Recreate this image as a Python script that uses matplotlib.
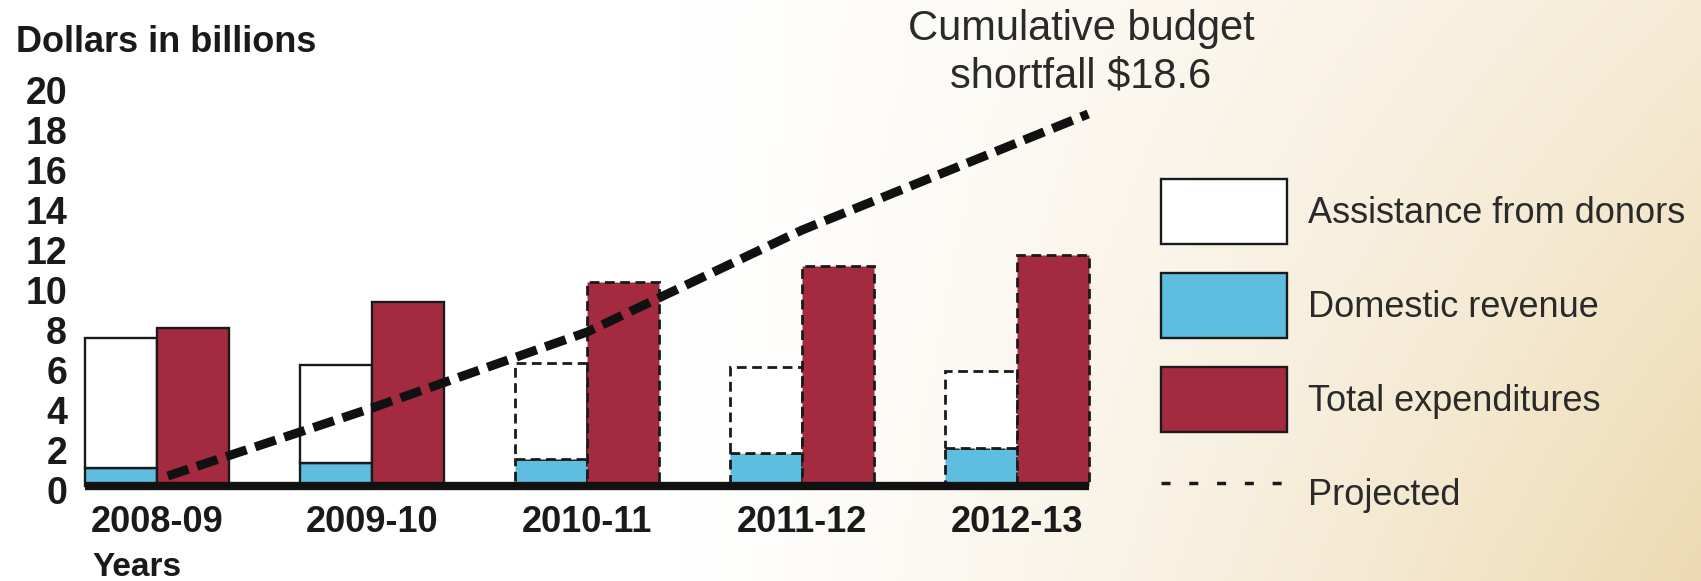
import numpy as np
import matplotlib
matplotlib.use("Agg")
import matplotlib.pyplot as plt
import matplotlib.transforms as mtransforms
from matplotlib.patches import Patch
from matplotlib.lines import Line2D

plt.rcParams['font.family'] = ['Liberation Sans', 'DejaVu Sans']

# data (billions of dollars)
years = ['2008-09', '2009-10', '2010-11', '2011-12', '2012-13']
domestic = [0.9, 1.15, 1.35, 1.65, 1.9]
donors = [6.5, 4.9, 4.8, 4.3, 3.85]
expenditures = [7.9, 9.2, 10.2, 11.0, 11.55]
projected = [False, False, True, True, True]
shortfall_pos = [0.05, 1, 2, 3, 4.33]
shortfall = [0.5, 3.9, 7.7, 12.8, 18.6]
yticks = list(range(0, 21, 2))

RED = '#a32a3f'
BLUE = '#5fbde0'
EDGE = '#1a1a1a'
TXT = '#2a2a2a'

fig = plt.figure(figsize=(17.01, 5.81), dpi=100)

# background: white fading to pale tan at the right
bg = fig.add_axes([0, 0, 1, 1], zorder=0)
nx, ny = 400, 140
u = np.linspace(0, 1, nx)[None, :]
v = np.linspace(0, 1, ny)[:, None]
t = np.clip((u - 0.40) / 0.60, 0, 1) ** 1.3 * (0.55 + 0.45 * v)
tan = np.array([0.93, 0.855, 0.70])
img = 1 - t[..., None] * (1 - tan)
bg.imshow(img, aspect='auto', extent=[0, 1, 0, 1], origin='upper')
bg.axis('off')

ax = fig.add_axes([74 / 1701, 1 - 498 / 581, 1040 / 1701, 432 / 581], zorder=1)
ax.patch.set_alpha(0)

x = np.arange(len(years))
w = 0.335
for i in range(len(years)):
    ls = (0, (3.5, 2)) if projected[i] else '-'
    lw = 2.0 if projected[i] else 1.7
    ax.bar(x[i] - w / 2, domestic[i], w, color=BLUE, edgecolor=EDGE, linewidth=lw, linestyle=ls, zorder=2)
    ax.bar(x[i] - w / 2, donors[i], w, bottom=domestic[i], color='white', edgecolor=EDGE,
           linewidth=lw, linestyle=ls, zorder=2)
    ax.bar(x[i] + w / 2, expenditures[i], w, color=RED, edgecolor=EDGE, linewidth=lw, linestyle=ls, zorder=2)

ax.hlines(0, x[0] - w, x[-1] + w, color='#111111', linewidth=6, zorder=3, clip_on=False)

ax.plot(shortfall_pos, shortfall, color='#111111', linewidth=6.5,
        linestyle=(0, (2.4, 1.0)), dash_capstyle='butt', zorder=4)

ax.set_xlim(-0.386, 4.45)
ax.set_ylim(-0.6, 21)
ax.set_yticks(yticks)
ax.set_yticklabels([str(v) for v in yticks], fontsize=27, fontweight='bold', color=EDGE)
ax.set_xticks(x)
ax.set_xticklabels(years, fontsize=26, fontweight='bold', color=EDGE)
ax.tick_params(axis='both', length=0)
ax.tick_params(axis='y', pad=5)
ax.tick_params(axis='x', pad=5)
for s in ax.spines.values():
    s.set_visible(False)

off = mtransforms.ScaledTranslation(0, -4 / 100, fig.dpi_scale_trans)
for lab in ax.get_yticklabels():
    lab.set_transform(lab.get_transform() + off)

fig.text(16 / 1701, 1 - 43 / 581, 'Dollars in billions', fontsize=26, fontweight='bold',
         color=EDGE, ha='left', va='center')
fig.text(92 / 1701, 1 - 567 / 581, 'Years', fontsize=24, fontweight='bold',
         color=EDGE, ha='left', va='center')
fig.text(1081 / 1701, 1 - 53 / 581, 'Cumulative budget\nshortfall $18.6', fontsize=30,
         color=TXT, ha='center', va='center', linespacing=1.25)

handles = [
    Patch(facecolor='white', edgecolor=EDGE, linewidth=1.7, label='Assistance from donors'),
    Patch(facecolor=BLUE, edgecolor=EDGE, linewidth=1.7, label='Domestic revenue'),
    Patch(facecolor=RED, edgecolor=EDGE, linewidth=1.7, label='Total expenditures'),
    Line2D([], [], color=EDGE, linewidth=2.5, linestyle=(0, (2.6, 5.4)), label='Projected'),
]
leg = fig.legend(handles=handles, loc='upper left', bbox_to_anchor=(1161 / 1701, 1 - 179 / 581),
                 frameon=False, fontsize=26, borderpad=0, borderaxespad=0,
                 handlelength=3.5, handleheight=2.4, labelspacing=0.8, handletextpad=0.58)
for txt in leg.get_texts():
    txt.set_color(TXT)

fig.savefig('out.png', dpi=100)
